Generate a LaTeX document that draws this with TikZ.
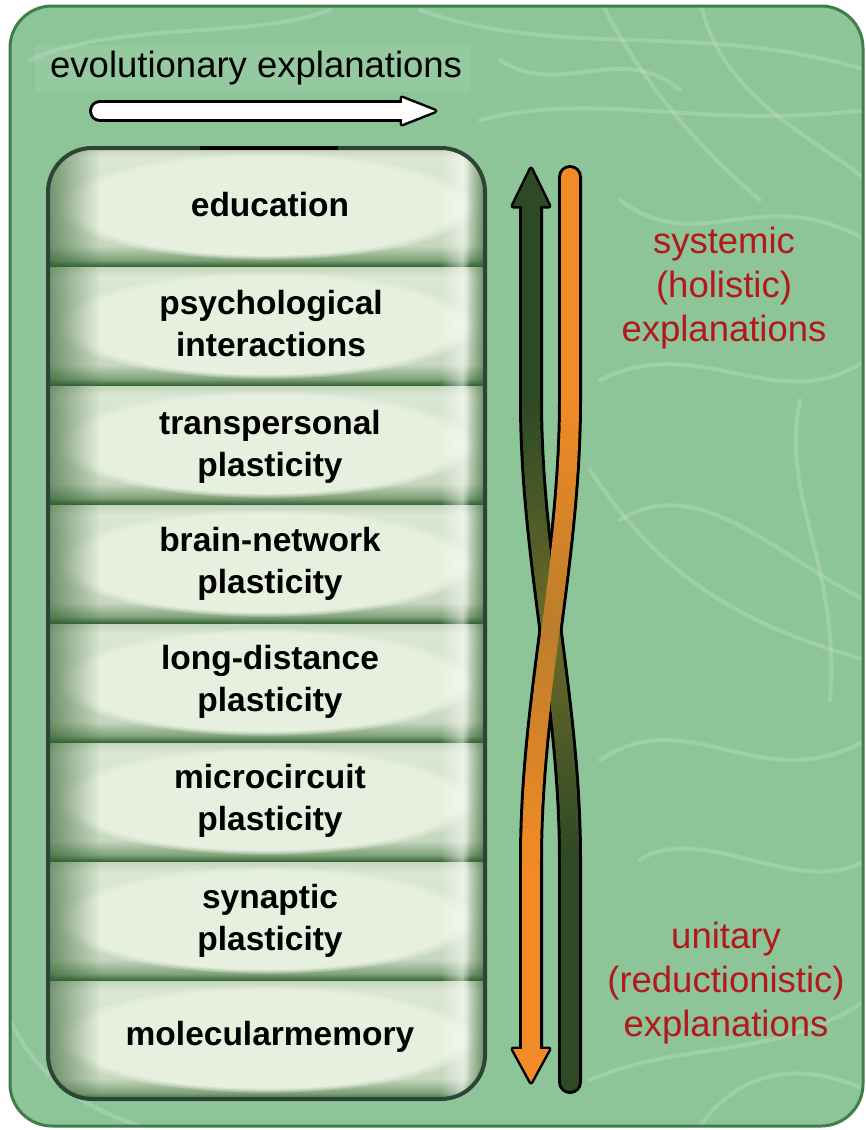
\documentclass[tikz,border=0pt]{standalone}
\usepackage{fontspec}
\setmainfont{Liberation Sans}
\usetikzlibrary{fadings}
\definecolor{bggreen}{HTML}{8DC598}
\definecolor{framegreen}{HTML}{3F7D4B}
\definecolor{boxedge}{HTML}{2E4436}
\definecolor{rowlt}{HTML}{E7F0DE}
\definecolor{sepdk}{HTML}{2F5E2F}
\definecolor{dkg}{HTML}{2D4A24}
\definecolor{olv}{HTML}{6E6A2A}
\definecolor{org}{HTML}{F28A25}
\definecolor{brn}{HTML}{BC7E2C}
\definecolor{redtxt}{HTML}{B3181D}
\definecolor{sa}{HTML}{2F5E2F}
\definecolor{sb}{HTML}{7FA27A}
\definecolor{sc}{HTML}{C6D7BF}
\definecolor{sd}{HTML}{D3E1CC}
\definecolor{se}{HTML}{DAE7D3}
\definecolor{sf}{HTML}{C4D6BD}
\pgfdeclareverticalshading{rowsh}{100bp}{color(0bp)=(sa); color(25bp)=(sa); color(28bp)=(sb); color(34bp)=(sc); color(50bp)=(sd); color(71bp)=(se); color(75bp)=(sf); color(100bp)=(sf)}
\tikzfading[name=fadeR, left color=transparent!0, right color=transparent!100]
\tikzfading[name=fadeL, left color=transparent!100, right color=transparent!0]
\begin{document}
\begin{tikzpicture}[x=1pt,y=-1pt,
  rowtext/.style={font=\fontsize{33.5}{42}\selectfont\bfseries, align=center, text=black},
  redlab/.style={font=\fontsize{36.5}{44}\selectfont, align=center, text=redtxt},
  outl/.style={black, line width=24, line cap=round},
  fib/.style={white, opacity=0.16, line width=4, line cap=round}]
\useasboundingbox (0,0) rectangle (866,1130);
\fill[white] (0,0) rectangle (866,1130);
% outer frame
\fill[bggreen, rounded corners=42] (10,6) rectangle (863,1126);
\begin{scope}
\clip[rounded corners=42] (10,6) rectangle (863,1126);
\draw[fib] (420,10) .. controls (560,60) and (700,20) .. (866,70);
\draw[fib] (480,120) .. controls (600,90) and (700,130) .. (866,110);
\draw[fib] (600,0) .. controls (640,80) and (700,150) .. (760,200);
\draw[fib] (30,60) .. controls (120,20) and (250,40) .. (330,10);
\draw[fib] (700,0) .. controls (720,100) and (820,140) .. (866,180);
\draw[fib] (600,380) .. controls (700,330) and (780,420) .. (866,360);
\draw[fib] (620,520) .. controls (700,470) and (780,560) .. (866,600);
\draw[fib] (590,470) .. controls (650,560) and (720,620) .. (866,660);
\draw[fib] (600,760) .. controls (690,700) and (760,800) .. (866,740);
\draw[fib] (640,860) .. controls (700,820) and (800,900) .. (866,860);
\draw[fib] (590,1080) .. controls (680,1040) and (780,1060) .. (866,1000);
\draw[fib] (700,1126) .. controls (740,1070) and (800,1060) .. (866,1090);
\draw[fib] (10,1020) .. controls (30,1060) and (60,1100) .. (140,1126);
\draw[fib] (800,400) .. controls (780,500) and (840,560) .. (830,700);
\draw[fib] (500,60) .. controls (560,100) and (620,40) .. (680,90);
\draw[fib] (620,200) .. controls (700,260) and (760,180) .. (866,240);
\fill[white, opacity=0.07] (35,45) rectangle (470,92);
\end{scope}
\draw[framegreen, line width=3, rounded corners=42] (10,6) rectangle (863,1126);
% inner stacked box
\begin{scope}
\clip[rounded corners=44] (48,148) rectangle (485,1099);
\foreach \i in {0,...,7} {
  \pgfmathsetmacro\yt{148+119*\i}
  \shade[shading=rowsh] (48,\yt) rectangle (485,\yt+119);
  \fill[rowlt, path fading=circle with fuzzy edge 10 percent] (266,\yt+58) ellipse [x radius=210, y radius=54];
}
\fill[sepdk, path fading=fadeR, fill opacity=0.6] (48,148) rectangle (100,1099);
\fill[white, path fading=fadeL, fill opacity=0.5] (440,148) rectangle (462,1099);
\fill[white, path fading=fadeR, fill opacity=0.5] (462,148) rectangle (470,1099);
\fill[sepdk, path fading=fadeL, fill opacity=0.65] (466,148) rectangle (485,1099);
\end{scope}
\draw[boxedge, line width=4, rounded corners=44] (48,148) rectangle (485,1099);
\draw[black, line width=4] (200,148) -- (338,148);
% row labels
\node[rowtext] (edu) at (270,205) {education};
\node[rowtext] (psy) at (271,324) {psychological\\interactions};
\node[rowtext] (trp) at (270,447) {transpersonal\\plasticity};
\node[rowtext] (brn) at (270,564) {brain-network\\plasticity};
\node[rowtext] (lds) at (270,682) {long-distance\\plasticity};
\node[rowtext] (mcr) at (270,801) {microcircuit\\plasticity};
\node[rowtext] (syn) at (270,921) {synaptic\\plasticity};
\node[rowtext] (mol) at (270,1037) {molecularmemory};
% side labels
\node[redlab] (sys) at (724,288) {systemic\\(holistic)\\explanations};
\node[redlab] (uni) at (726,983) {unitary\\(reductionistic)\\explanations};
% top label and white arrow
\node[font=\fontsize{36.5}{40}\selectfont, anchor=base west, inner sep=0] (evo) at (50,77) {evolutionary explanations};
\coordinate (wt) at (100,111);
\coordinate (wb) at (404,111);
\draw[outl, line width=22] (wt) -- (wb);
\filldraw[black, line width=5, line join=round] (402,98) -- (435,111) -- (402,124) -- cycle;
\draw[white, line width=16, line cap=round] (wt) -- (wb);
\fill[white] (402,98) -- (435,111) -- (402,124) -- cycle;
% crossing arrows
\coordinate (DT) at (570,1082);
\coordinate (DB) at (531,206);
\coordinate (D1) at (531,400);
\coordinate (D2) at (570,860);
\coordinate (OT) at (570,177);
\coordinate (OB) at (531,1049);
\coordinate (O1) at (570,400);
\coordinate (O2) at (531,860);
\draw[outl] (DB) -- (D1) .. controls (531,560) and (570,700) .. (D2) -- (DT);
\draw[outl] (OT) -- (O1) .. controls (570,560) and (531,700) .. (O2) -- (OB);
\filldraw[black, line width=5, line join=round] (513,206) -- (531,169) -- (549,206) -- cycle;
\filldraw[black, line width=5, line join=round] (513,1049) -- (531,1082) -- (549,1049) -- cycle;
\draw[dkg, line width=18, line cap=round] (DB) -- (D1);
\draw[dkg, line width=18, line cap=round] (D2) -- (DT);
\draw[org, line width=18, line cap=round] (OT) -- (O1);
\draw[org, line width=18, line cap=round] (O2) -- (OB);
\foreach \k in {0,...,40} {
  \pgfmathsetmacro\t{\k/40}
  \pgfmathsetmacro\u{1-\t}
  \pgfmathsetmacro\ax{531*\u*\u*\u+3*531*\t*\u*\u+3*570*\t*\t*\u+570*\t*\t*\t}
  \pgfmathsetmacro\bx{570*\u*\u*\u+3*570*\t*\u*\u+3*531*\t*\t*\u+531*\t*\t*\t}
  \pgfmathsetmacro\ay{400*\u*\u*\u+3*560*\t*\u*\u+3*700*\t*\t*\u+860*\t*\t*\t}
  \coordinate (d\k) at (\ax,\ay);
  \coordinate (o\k) at (\bx,\ay);
}
\foreach \k [evaluate=\k as \kn using int(\k+1)] in {0,...,39} {
  \path (d\k); \pgfgetlastxy{\px}{\py}
  \pgfmathtruncatemacro\f{100*max(0,1-abs(-\py-630)/230)}
  \draw[olv!\f!dkg, line width=18, line cap=round] (d\k) -- (d\kn);
}
\foreach \k [evaluate=\k as \kn using int(\k+1)] in {0,...,39} {
  \path (o\k); \pgfgetlastxy{\px}{\py}
  \pgfmathtruncatemacro\f{100*max(0,1-abs(-\py-630)/230)}
  \draw[brn!\f!org, line width=18, line cap=round] (o\k) -- (o\kn);
}
\fill[dkg] (513,206) -- (531,169) -- (549,206) -- cycle;
\fill[org] (513,1049) -- (531,1082) -- (549,1049) -- cycle;
\end{tikzpicture}
\end{document}
